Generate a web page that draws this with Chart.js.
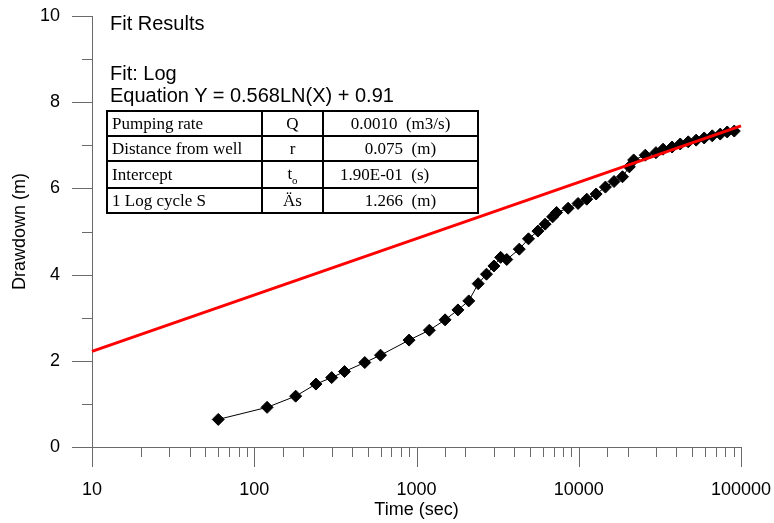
<!DOCTYPE html>
<html>
<head>
<meta charset="utf-8">
<script src="https://cdn.jsdelivr.net/npm/chart.js@4/dist/chart.umd.min.js"></script>
<style>
  html, body { margin: 0; padding: 0; background: #fff; }
  #wrap { position: relative; width: 774px; height: 523px; }
  canvas { position: absolute; left: 0; top: 0; }
  .ann { position: absolute; font-family: "Liberation Sans", Arial, sans-serif; font-size: 20px; color: #000; white-space: nowrap; line-height: 1; }
  #tbl { position: absolute; left: 106px; top: 110px; width: 371px; table-layout: fixed; border-collapse: collapse; font-family: "Liberation Serif", "Times New Roman", serif; font-size: 17px; color: #000; background: #fff; border: 2.5px solid #000; }
  #tbl td { border: 2px solid #000; height: 23px; padding: 0 4px; line-height: 23px; white-space: nowrap; overflow: visible; }
  #tbl td.c1 { text-align: left; }
  #tbl td.c2 { text-align: center; }
  #tbl td.c3 { text-align: center; }
  .sub { position: relative; top: 5px; font-size: 11px; }
</style>
</head>
<body>
<div id="wrap">
  <canvas id="c" width="774" height="523"></canvas>
  <div class="ann" style="left:110px; top:13px;">Fit Results</div>
  <div class="ann" style="left:110px; top:63px;">Fit: Log</div>
  <div class="ann" style="left:110px; top:85px;">Equation Y = 0.568LN(X) + 0.91</div>
  <table id="tbl">
    <colgroup><col style="width:155px"><col style="width:61px"><col style="width:155px"></colgroup>
    <tr><td class="c1">Pumping rate</td><td class="c2">Q</td><td class="c3">0.0010&nbsp;&nbsp;(m3/s)</td></tr>
    <tr><td class="c1">Distance from well</td><td class="c2">r</td><td class="c3">0.075&nbsp;&nbsp;(m)</td></tr>
    <tr><td class="c1">Intercept</td><td class="c2">t<span class="sub">o</span></td><td class="c3" style="text-align:left; padding-left:16px;">1.90E-01&nbsp;&nbsp;(s)</td></tr>
    <tr><td class="c1">1 Log cycle S</td><td class="c2">Äs</td><td class="c3">1.266&nbsp;&nbsp;(m)</td></tr>
  </table>
</div>
<script>
// ---- data ----
const timeSec = [60,120,180,240,300,360,480,600,900,1200,1500,1800,2100,2400,2700,3000,
  3300,3600,4300,4900,5600,6200,6900,7300,8600,9900,11200,12800,14600,16500,18600,20500,21800,
  25700,29900,33100,37600,42200,47300,52900,59300,66500,74500,82200,90900];
const drawdown = [0.64,0.92,1.18,1.46,1.61,1.75,1.96,2.13,2.48,2.71,2.95,3.18,3.39,3.79,4.01,4.20,
  4.40,4.35,4.59,4.83,5.01,5.17,5.34,5.44,5.54,5.65,5.75,5.87,6.03,6.16,6.27,6.50,6.66,
  6.77,6.83,6.91,6.96,7.03,7.08,7.12,7.17,7.22,7.26,7.31,7.33];
const fitTime = [10, 100000];
const fitDrawdown = [2.22, 7.45];
const xTickLabels = [10, 100, 1000, 10000, 100000];
const yTickLabels = [0, 2, 4, 6, 8, 10];

const obsPoints = timeSec.map((t, i) => ({x: t, y: drawdown[i]}));
const fitPoints = fitTime.map((t, i) => ({x: t, y: fitDrawdown[i]}));

const axisFont = {family: '"Liberation Sans", Arial, sans-serif', size: 18};

const tickPlugin = {
  id: 'tickMarks',
  beforeDatasetsDraw(chart) {
    const ctx = chart.ctx;
    const xs = chart.scales.x, ys = chart.scales.y;
    const x0 = xs.left, y0 = ys.bottom;
    ctx.save();
    ctx.strokeStyle = '#6a6a6a';
    ctx.lineWidth = 1;
    ctx.beginPath();
    ctx.moveTo(Math.round(x0) + 0.5, ys.top);
    ctx.lineTo(Math.round(x0) + 0.5, y0);
    ctx.moveTo(x0, Math.round(y0) + 0.5);
    ctx.lineTo(xs.right, Math.round(y0) + 0.5);
    ys.ticks.forEach(t => {
      const py = Math.round(ys.getPixelForValue(t.value)) + 0.5;
      const len = yTickLabels.includes(t.value) ? 20 : 10;
      ctx.moveTo(x0 - len, py);
      ctx.lineTo(x0, py);
    });
    xs.ticks.forEach(t => {
      const px = Math.round(xs.getPixelForValue(t.value)) + 0.5;
      const len = xTickLabels.includes(t.value) ? 20 : 10;
      ctx.moveTo(px, y0);
      ctx.lineTo(px, y0 + len);
    });
    ctx.stroke();
    ctx.restore();
  }
};

const hiddenGrid = {display: true, drawOnChartArea: false, drawTicks: true, tickLength: 32, tickColor: 'rgba(0,0,0,0)'};

new Chart(document.getElementById('c'), {
  type: 'scatter',
  data: {
    datasets: [
      {
        label: 'Fit',
        data: fitPoints,
        showLine: true,
        borderColor: '#ff0000',
        borderWidth: 3,
        pointRadius: 0,
        order: 0,
        clip: false
      },
      {
        label: 'Observed',
        data: obsPoints,
        showLine: true,
        borderColor: '#000000',
        borderWidth: 1,
        pointStyle: 'rectRot',
        pointRadius: 6,
        pointBackgroundColor: '#000000',
        pointBorderColor: '#000000',
        pointBorderWidth: 1,
        order: 1,
        clip: false
      }
    ]
  },
  options: {
    responsive: false,
    animation: false,
    devicePixelRatio: 1,
    layout: {padding: {top: 16, right: 33, bottom: 0, left: 0}},
    plugins: {legend: {display: false}, tooltip: {enabled: false}},
    scales: {
      x: {
        type: 'logarithmic',
        min: 10,
        max: 100000,
        grid: hiddenGrid,
        border: {display: false},
        ticks: {
          autoSkip: false,
          maxRotation: 0,
          padding: 0,
          color: '#000',
          font: axisFont,
          callback: (v) => xTickLabels.includes(v) ? String(v) : ''
        },
        title: {display: true, text: 'Time (sec)', color: '#000', font: axisFont, padding: {top: 0, bottom: 2}},
        afterFit: (s) => { s.height = 76; }
      },
      y: {
        type: 'linear',
        min: 0,
        max: 10,
        grid: hiddenGrid,
        border: {display: false},
        ticks: {
          stepSize: 1,
          padding: 0,
          color: '#000',
          font: axisFont,
          callback: (v) => yTickLabels.includes(v) ? String(v) : ''
        },
        title: {display: true, text: 'Drawdown (m)', color: '#000', font: axisFont, padding: {top: 9, bottom: 0}},
        afterFit: (s) => { s.width = 92; }
      }
    }
  },
  plugins: [tickPlugin]
});
</script>
</body>
</html>
